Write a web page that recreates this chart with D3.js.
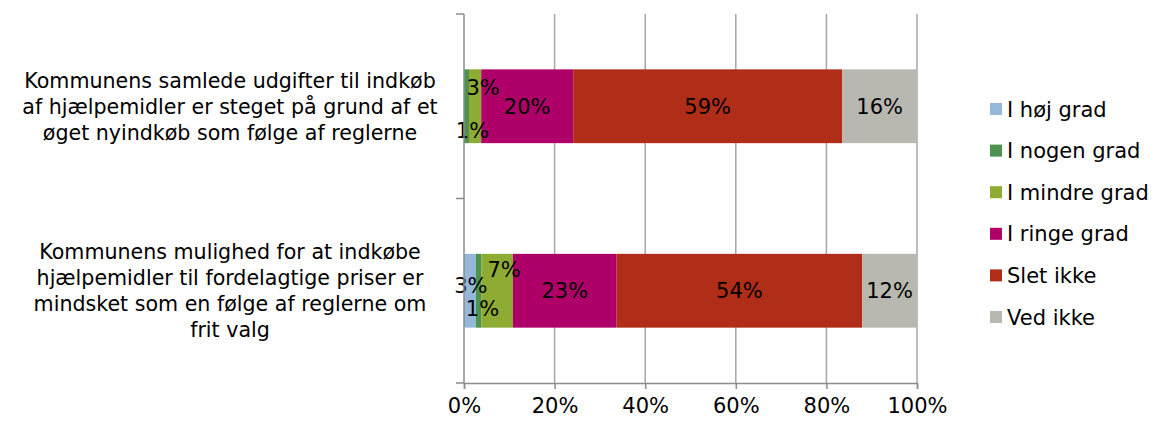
<!DOCTYPE html>
<html>
<head>
<meta charset="utf-8">
<script src="https://cdn.jsdelivr.net/npm/d3@7"></script>
<style>
body { margin: 0; background: #fff; }
text { font-family: "DejaVu Sans", Verdana, sans-serif; fill: #000; }
</style>
</head>
<body>
<svg class="chart" width="1155" height="421"></svg>
<script>
var categories = [
    ["Kommunens samlede udgifter til indkøb", "af hjælpemidler er steget på grund af et", "øget nyindkøb som følge af reglerne"],
    ["Kommunens mulighed for at indkøbe", "hjælpemidler til fordelagtige priser er", "mindsket som en følge af reglerne om", "frit valg"]
];
var seriesNames = ["I høj grad", "I nogen grad", "I mindre grad", "I ringe grad", "Slet ikke", "Ved ikke"];
var valuesCat1 = [0, 1.1, 2.7, 20.3, 59.4, 16.5];
var valuesCat2 = [2.6, 1.2, 7, 22.9, 54.2, 12.1];
var labelsCat1 = ["", "1%", "3%", "20%", "59%", "16%"];
var labelsCat2 = ["3%", "1%", "7%", "23%", "54%", "12%"];
var tickValues = [0, 20, 40, 60, 80, 100];

var colors = ["#95b8da", "#4e9250", "#8eab33", "#ae0068", "#b02d18", "#b8b8b0"];

var allValues = [valuesCat1, valuesCat2];
var allLabels = [labelsCat1, labelsCat2];

var fontSize = "20.6px";

var svg = d3.select(".chart");

var x = d3.scaleLinear().domain([0, 100]).range([464, 917]);
var y = d3.scaleBand()
    .domain([0, 1])
    .range([14, 383])
    .paddingInner(0.6)
    .paddingOuter(0.3);

// grid lines
svg.append("g")
    .selectAll("line")
    .data(tickValues.slice(1))
    .enter().append("line")
    .attr("x1", function(d){ return x(d); })
    .attr("x2", function(d){ return x(d); })
    .attr("y1", 14)
    .attr("y2", 383)
    .attr("stroke", "#a6a6a6")
    .attr("stroke-width", 1.5);

// stacked bars
var stackRows = allValues.map(function(vals, ci){
    var acc = 0;
    return vals.map(function(v, si){
        var row = {cat: ci, series: si, x0: acc, x1: acc + v, label: allLabels[ci][si]};
        acc += v;
        return row;
    });
});
var segs = [].concat.apply([], stackRows);

svg.append("g")
    .selectAll("rect")
    .data(segs)
    .enter().append("rect")
    .attr("x", function(d){ return x(d.x0); })
    .attr("y", function(d){ return y(d.cat); })
    .attr("width", function(d){ return x(d.x1) - x(d.x0); })
    .attr("height", y.bandwidth())
    .attr("fill", function(d){ return colors[d.series]; });

// label nudges for the small segments (like Excel does)
var nudge = {
    "0-1": [6, 24], "0-2": [8, -19],
    "1-0": [1, -5], "1-1": [4, 18], "1-2": [7, -21]
};

svg.append("g")
    .selectAll("text")
    .data(segs.filter(function(d){ return d.label !== ""; }))
    .enter().append("text")
    .attr("x", function(d){
        var n = nudge[d.cat + "-" + d.series] || [0, 0];
        return (x(d.x0) + x(d.x1)) / 2 + n[0];
    })
    .attr("y", function(d){
        var n = nudge[d.cat + "-" + d.series] || [0, 0];
        return y(d.cat) + y.bandwidth() / 2 + n[1];
    })
    .attr("dy", "0.36em")
    .attr("text-anchor", "middle")
    .style("font-size", "21px")
    .text(function(d){ return d.label; });

// vertical axis
var axisColor = "#8c8c8c";
svg.append("line")
    .attr("x1", x(0)).attr("x2", x(0))
    .attr("y1", 14).attr("y2", 383)
    .attr("stroke", axisColor).attr("stroke-width", 1.5);

var yTicks = [14, 14 + (383 - 14) / 2, 383];
svg.append("g")
    .selectAll("line")
    .data(yTicks)
    .enter().append("line")
    .attr("x1", x(0) - 8).attr("x2", x(0))
    .attr("y1", function(d){ return d; })
    .attr("y2", function(d){ return d; })
    .attr("stroke", axisColor).attr("stroke-width", 1.5);

// bottom axis
var xAxis = d3.axisBottom(x)
    .tickValues(tickValues)
    .tickSize(6)
    .tickPadding(9)
    .tickFormat(function(d){ return d + "%"; });

var gx = svg.append("g")
    .attr("transform", "translate(0,383)")
    .call(xAxis);
gx.select(".domain").attr("stroke", axisColor).attr("stroke-width", 1.5);
gx.selectAll(".tick line").attr("stroke", axisColor).attr("stroke-width", 1.5);
gx.selectAll(".tick text")
    .style("font-size", "21px")
    .style("font-family", "DejaVu Sans, Verdana, sans-serif")
    .attr("fill", "#000");

// category labels
categories.forEach(function(lines, ci){
    var cy = y(ci) + y.bandwidth() / 2;
    var lh = 26;
    var t = svg.append("text")
        .attr("text-anchor", "middle")
        .style("font-size", fontSize);
    lines.forEach(function(line, li){
        t.append("tspan")
            .attr("x", 230)
            .attr("y", cy + (li - (lines.length - 1) / 2) * lh)
            .attr("dy", "0.36em")
            .text(line);
    });
});

// legend
var legend = svg.append("g")
    .selectAll("g")
    .data(seriesNames)
    .enter().append("g")
    .attr("transform", function(d, i){ return "translate(990," + (109 + i * 41.6) + ")"; });

legend.append("rect")
    .attr("x", 0).attr("y", -6)
    .attr("width", 12).attr("height", 12)
    .attr("fill", function(d, i){ return colors[i]; });

legend.append("text")
    .attr("x", 17)
    .attr("dy", "0.36em")
    .style("font-size", "21px")
    .text(function(d){ return d; });
</script>
</body>
</html>
